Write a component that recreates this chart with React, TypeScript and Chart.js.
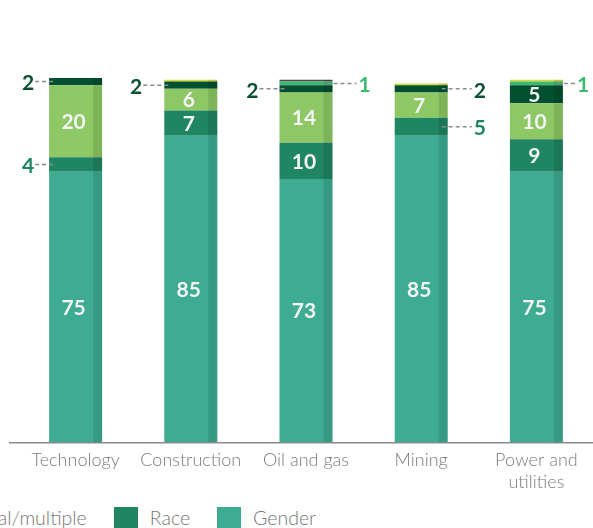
import React, { useEffect, useRef } from "react";
import { Chart, registerables } from "chart.js";

Chart.register(...registerables);

const categories: string[][] = [
  ["Technology"],
  ["Construction"],
  ["Oil and gas"],
  ["Mining"],
  ["Power and", "utilities"],
];

const gender = [75, 85, 73, 85, 75];
const race = [4, 7, 10, 5, 9];
const multiple = [20, 6, 14, 7, 10];
const lgbtq = [2, 2, 2, 2, 5];
const disability = [0, 0, 1, 0, 1];
const age = [0, 0.5, 0, 0.5, 0.5];
const other = [0, 0, 0.5, 0, 0];

const seriesNames = ["Gender", "Race", "Intersectional/multiple", "LGBTQ+", "Disability", "Age", "Other"];
const seriesColors = ["#3dac92", "#1f8563", "#8dc865", "#02502f", "#3db96f", "#d6db3a", "#4a4a4a"];
const labelColors = ["#ffffff", "#1e8462", "#ffffff", "#0b5232", "#3dba6f", "#000", "#000"];
const labelledSeries = [0, 1, 2, 3, 4];

// label placement: key "dataset-index" -> [side, gap]
const outsideLabels: Record<string, [string, number]> = {
  "3-0": ["left", 15],
  "1-0": ["left", 15],
  "3-1": ["left", 22],
  "3-2": ["left", 21],
  "4-2": ["right", 26],
  "3-3": ["right", 26],
  "1-3": ["right", 26],
  "4-4": ["right", 14],
};

const FONT = "Lato, 'Open Sans', sans-serif";

const barPlugin = {
  id: "barDecor",
  afterDatasetsDraw(chart: any) {
    const ctx = chart.ctx;
    const area = chart.chartArea;
    chart.data.datasets.forEach((ds: any, di: number) => {
      const meta = chart.getDatasetMeta(di);
      meta.data.forEach((bar: any, i: number) => {
        if (!ds.data[i]) return;
        const p = bar.getProps(["x", "y", "base", "width"], true);
        const w = p.width;
        const right = p.x + w / 2;
        ctx.save();
        ctx.fillStyle = "rgba(0,0,0,0.1)";
        ctx.fillRect(right - w * 0.17, Math.min(p.y, p.base), w * 0.17, Math.abs(p.base - p.y));
        ctx.restore();
      });
    });
    ctx.save();
    ctx.strokeStyle = "#8a8a8a";
    ctx.lineWidth = 1.5;
    ctx.beginPath();
    ctx.moveTo(9, area.bottom + 0.75);
    ctx.lineTo(chart.width, area.bottom + 0.75);
    ctx.stroke();
    ctx.restore();
    labelledSeries.forEach((di) => {
      const ds = chart.data.datasets[di];
      const meta = chart.getDatasetMeta(di);
      meta.data.forEach((bar: any, i: number) => {
        const v = ds.data[i];
        if (!v) return;
        const p = bar.getProps(["x", "y", "base", "width"], true);
        const cy = (p.y + p.base) / 2;
        const out = outsideLabels[`${di}-${i}`];
        ctx.save();
        ctx.font = `bold 21px ${FONT}`;
        ctx.textBaseline = "middle";
        if (!out) {
          ctx.fillStyle = "#f4f4f4";
          ctx.textAlign = "center";
          ctx.fillText(String(v), p.x - 2, cy + 1);
        } else {
          const [side, gap] = out;
          const ly = cy + 1;
          ctx.strokeStyle = "#8c8c8c";
          ctx.lineWidth = 1.5;
          ctx.setLineDash([4, 3]);
          ctx.beginPath();
          if (side === "left") {
            const edge = p.x - p.width / 2;
            ctx.moveTo(edge - gap + 1, ly - 1);
            ctx.lineTo(edge + 6, ly - 1);
            ctx.stroke();
            ctx.fillStyle = labelColors[di];
            ctx.textAlign = "right";
            ctx.fillText(String(v), edge - gap, ly + 1);
          } else {
            const edge = p.x + p.width / 2;
            ctx.moveTo(edge - 6, ly - 1);
            ctx.lineTo(edge + gap - 2, ly - 1);
            ctx.stroke();
            ctx.fillStyle = labelColors[di];
            ctx.textAlign = "left";
            ctx.fillText(String(v), edge + gap, ly + 1);
          }
        }
        ctx.restore();
      });
    });
  },
};

export default function App() {
  const ref = useRef<HTMLCanvasElement | null>(null);
  useEffect(() => {
    if (!ref.current) return;
    const values = [gender, race, multiple, lgbtq, disability, age, other];
    const chart = new Chart(ref.current, {
      type: "bar",
      data: {
        labels: categories,
        datasets: values.map((d, k) => ({
          label: seriesNames[k],
          data: d,
          backgroundColor: seriesColors[k],
          borderWidth: 0,
          categoryPercentage: 1,
          barPercentage: 0.46,
        })),
      },
      options: {
        responsive: false,
        animation: false,
        layout: { padding: { top: 78, left: 18, right: 26, bottom: 0 } },
        plugins: { legend: { display: false }, tooltip: { enabled: false } },
        scales: {
          x: {
            stacked: true,
            grid: { display: false, drawTicks: false },
            border: { display: false },
            ticks: {
              color: "#7a7a7a",
              padding: 7,
              maxRotation: 0,
              autoSkip: false,
              font: { family: FONT, size: 18, weight: "300", lineHeight: 1.22 },
            },
            afterFit: (s: any) => {
              s.height = 58;
            },
          },
          y: { stacked: true, display: false, min: 0, max: 101 },
        },
      },
      plugins: [barPlugin],
    } as any);
    return () => chart.destroy();
  }, []);

  const legendItems = seriesNames.map((n, k) => ({ n, c: seriesColors[k] })).reverse();

  return (
    <div style={{ position: "absolute", left: 0, top: 0, width: 593, height: 528, overflow: "hidden", background: "#fff" }}>
      <canvas ref={ref} width={620} height={500} style={{ position: "absolute", left: 0, top: 0, width: 620, height: 500 }} />
      <div
        style={{
          position: "absolute",
          top: 507,
          right: 593 - 316,
          display: "flex",
          alignItems: "center",
          gap: 27,
          whiteSpace: "nowrap",
          fontFamily: FONT,
          fontWeight: 300,
          fontSize: 19.5,
          lineHeight: "22px",
          color: "#777",
        }}
      >
        {legendItems.map((it) => (
          <div key={it.n} style={{ display: "flex", alignItems: "center" }}>
            <span style={{ display: "inline-block", width: 24, height: 22, background: it.c, marginRight: 12 }} />
            <span>{it.n}</span>
          </div>
        ))}
      </div>
    </div>
  );
}
